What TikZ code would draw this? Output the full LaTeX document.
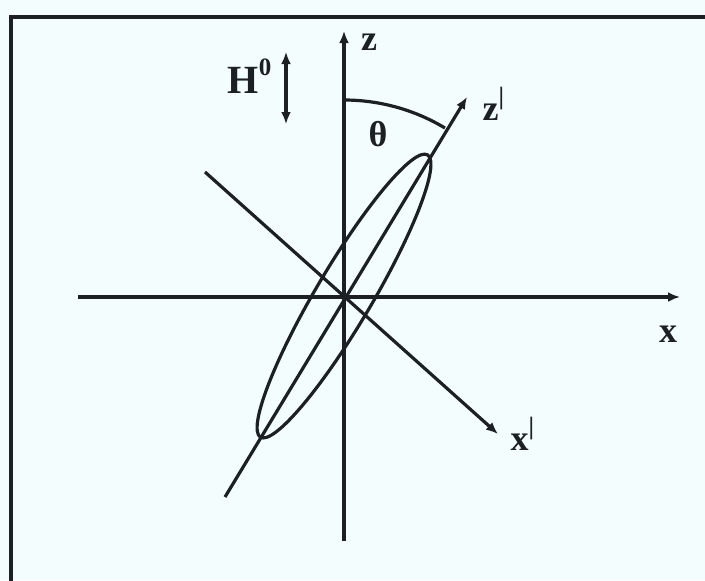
\documentclass[tikz,border=0pt]{standalone}
\usetikzlibrary{arrows.meta}
\font\labfont="Liberation Serif/B" at 18pt
\font\bigfont="Liberation Serif/B" at 20pt
\font\supfont="Liberation Serif/B" at 12.5pt
\newcommand\hi[1]{\raisebox{0.95ex}{\supfont #1}}
\definecolor{paper}{HTML}{F3FDFD}
\definecolor{ink}{HTML}{1C2024}

\begin{document}
\begin{tikzpicture}[x=0.5pt,y=-0.5pt,line width=1.6pt,draw=ink,text=ink,>={Latex[length=6pt,width=5pt]},
  lab/.style={font=\labfont,inner sep=0pt}]
\fill[paper] (0,0) rectangle (705,580);
\useasboundingbox (0,0) rectangle (705,580);
\draw[line width=2pt] (11,582) -- (11,17) -- (707,17);
% axes
\coordinate (O) at (344,296);
\coordinate (zb) at (344,541); \coordinate (zt) at (344,31);
\coordinate (xl) at (78,297);  \coordinate (xr) at (680,297);
\coordinate (zpb) at (225,497); \coordinate (zpt) at (467,97);
\coordinate (xpl) at (205,172); \coordinate (xpr) at (498,434);
\draw[->] (zb)--(zt);
\draw[->] (xl)--(xr);
\draw[->] (zpb)--(zpt);
\draw[->] (xpl)--(xpr);
% ellipsoid and angle
\draw[rotate around={59.4:(O)}] (O) ellipse[x radius=164,y radius=28];
\draw ([shift={(-90:196)}]O) arc[start angle=-90,end angle=-59,radius=196];
% labels
\node[lab] (zlab) at (369,42) {z};
\node[lab] (xlab) at (668,334) {x};
\node[lab,anchor=base west] (zplab) at (481,120) {z\hi{|}};
\node[lab,anchor=base west] (xplab) at (509,450) {x\hi{|}};
\node[lab] (th) at (378,134) {θ};
\node[lab,font=\bigfont,anchor=base east] (hlab) at (273,93) {H\hi{0}};
\coordinate (h1) at (286,52); \coordinate (h2) at (286,124);
\draw[<->] (h1)--(h2);
\end{tikzpicture}
\end{document}
